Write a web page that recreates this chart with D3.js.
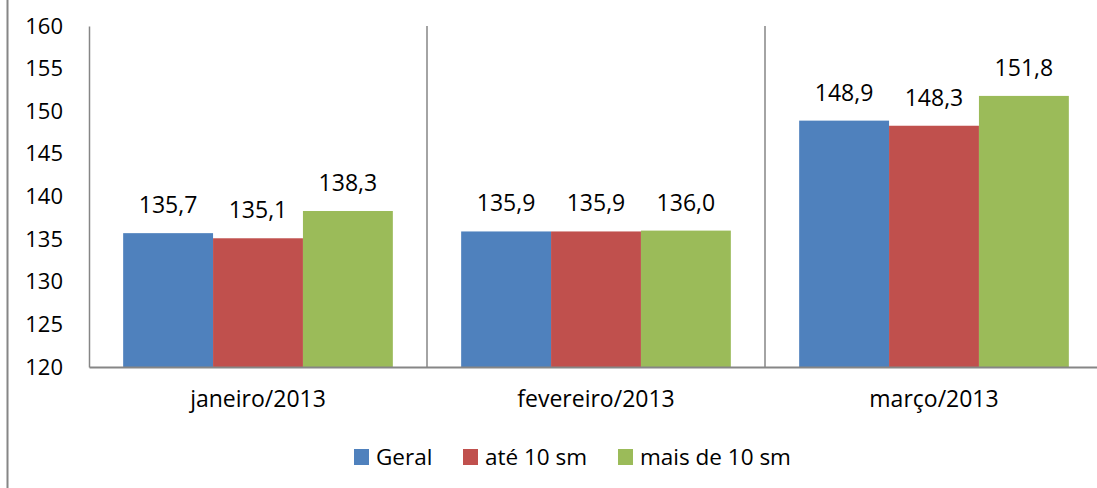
<!DOCTYPE html>
<html>
<head>
<meta charset="utf-8">
<script src="https://cdn.jsdelivr.net/npm/d3@7"></script>
<style>
  body { margin: 0; background: #fff; }
  svg text { font-family: "Open Sans", sans-serif; fill: #000; }
</style>
</head>
<body>
<script>
const categories = ["janeiro/2013", "fevereiro/2013", "março/2013"];
const seriesNames = ["Geral", "até 10 sm", "mais de 10 sm"];
const geral = [135.7, 135.9, 148.9];
const ate10 = [135.1, 135.9, 148.3];
const mais10 = [138.3, 136.0, 151.8];
const yTicks = [120, 125, 130, 135, 140, 145, 150, 155, 160];
const colors = ["#4F81BD", "#C0504D", "#9BBB59"];

const W = 1097, H = 488;
const svg = d3.select("body").append("svg")
    .attr("width", W)
    .attr("height", H);

// borda externa do gráfico (só a esquerda aparece no recorte)
svg.append("line")
    .attr("x1", 7.5).attr("x2", 7.5)
    .attr("y1", 0).attr("y2", H)
    .attr("stroke", "#868686").attr("stroke-width", 2);

const pLeft = 89, pRight = 1103, pTop = 26, pBottom = 367;

const x = d3.scaleBand().domain(categories).range([pLeft, pRight]).paddingInner(0).paddingOuter(0);
const xs = d3.scaleBand().domain(seriesNames).range([0, x.bandwidth()]).paddingOuter(0.38).paddingInner(0);
const y = d3.scaleLinear().domain([120, 160]).range([pBottom, pTop]);

const data = categories.map((c, i) => ({
    cat: c,
    vals: [geral[i], ate10[i], mais10[i]]
}));

// barras
const g = svg.selectAll(".cat")
    .data(data)
    .enter().append("g")
    .attr("class", "cat")
    .attr("transform", d => `translate(${x(d.cat)},0)`);

g.selectAll("rect")
    .data(d => d.vals.map((v, k) => ({ v: v, s: seriesNames[k], k: k })))
    .enter().append("rect")
    .attr("x", d => xs(d.s))
    .attr("width", xs.bandwidth())
    .attr("y", d => y(d.v))
    .attr("height", d => y(120) - y(d.v))
    .attr("fill", d => colors[d.k]);

// rótulos de valor
g.selectAll(".val")
    .data(d => d.vals.map((v, k) => ({ v: v, s: seriesNames[k] })))
    .enter().append("text")
    .attr("class", "val")
    .attr("x", d => xs(d.s) + xs.bandwidth() / 2)
    .attr("y", d => y(d.v) - 20)
    .attr("text-anchor", "middle")
    .attr("font-size", 23)
    .text(d => d.v.toFixed(1).replace(".", ","));

// separadores de categoria
svg.selectAll(".sep")
    .data(categories.slice(1))
    .enter().append("line")
    .attr("x1", d => x(d)).attr("x2", d => x(d))
    .attr("y1", pTop).attr("y2", pBottom)
    .attr("stroke", "#868686").attr("stroke-width", 1.5);

// eixo y
const yAxis = svg.append("g")
    .attr("transform", `translate(${pLeft},0)`)
    .call(d3.axisLeft(y).tickValues(yTicks).tickSize(0).tickPadding(26));
yAxis.select(".domain").attr("stroke", "#868686").attr("stroke-width", 1.5);
yAxis.selectAll("text").attr("font-size", 22).attr("font-family", "Open Sans").attr("fill", "#000");

// eixo x
const xAxis = svg.append("g")
    .attr("transform", `translate(0,${pBottom})`)
    .call(d3.axisBottom(x).tickSize(0).tickPadding(24));
xAxis.select(".domain").attr("stroke", "#868686").attr("stroke-width", 2);
xAxis.selectAll("text").attr("font-size", 23).attr("font-family", "Open Sans").attr("fill", "#000");

// legenda
const legendX = [354, 463, 618];
const leg = svg.selectAll(".leg")
    .data(seriesNames)
    .enter().append("g")
    .attr("class", "leg")
    .attr("transform", (d, i) => `translate(${legendX[i]},449)`);
leg.append("rect")
    .attr("width", 15).attr("height", 16)
    .attr("fill", (d, i) => colors[i]);
leg.append("text")
    .attr("x", 22).attr("y", 8)
    .attr("dy", "0.35em")
    .attr("font-size", 22.5)
    .text(d => d);
</script>
</body>
</html>
